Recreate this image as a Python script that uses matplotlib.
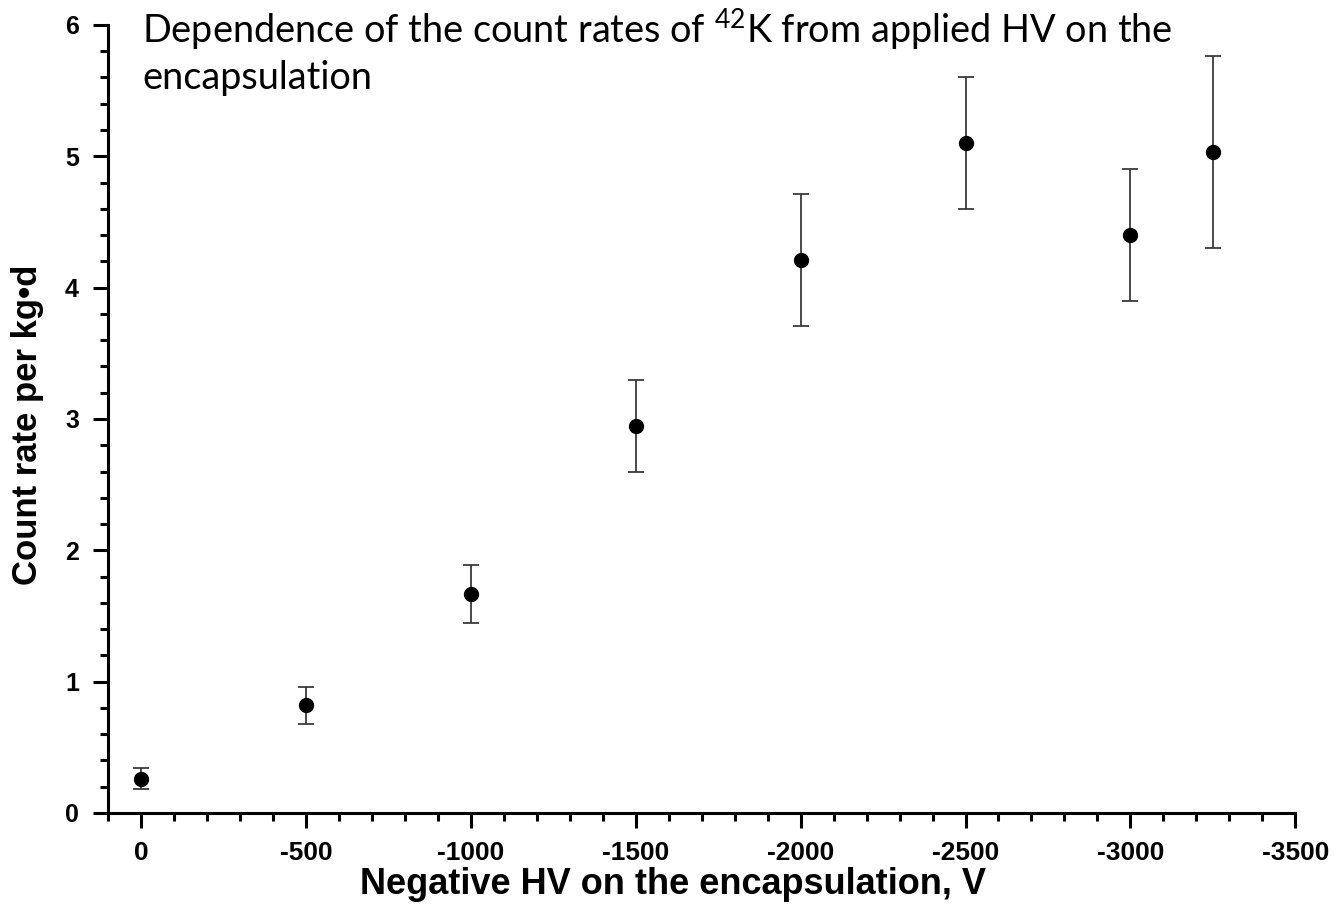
import matplotlib.pyplot as plt
from matplotlib.ticker import MultipleLocator

# HV on encapsulation (V) vs 42K count rate
hv = [0, -500, -1000, -1500, -2000, -2500, -3000, -3250]
rate = [0.26, 0.82, 1.67, 2.95, 4.21, 5.10, 4.40, 5.03]
rate_err = [0.08, 0.14, 0.22, 0.35, 0.50, 0.50, 0.50, 0.73]

plt.rcParams['mathtext.default'] = 'regular'
plt.rcParams['axes.unicode_minus'] = False

fig = plt.figure(figsize=(13.34, 9.11), dpi=100)
ax = fig.add_axes([0.081, 0.1076, 0.890, 0.865])

ax.errorbar(hv, rate, yerr=rate_err, fmt='o', color='black', ms=10,
            ecolor='#3a3a3a', elinewidth=1.3, capsize=5.5, capthick=1.3)

ax.set_xlim(100, -3500)
ax.set_ylim(0, 6)
ax.xaxis.set_major_locator(MultipleLocator(500))
ax.xaxis.set_minor_locator(MultipleLocator(100))
ax.yaxis.set_major_locator(MultipleLocator(1))
ax.yaxis.set_minor_locator(MultipleLocator(0.2))

for s in ['top', 'right']:
    ax.spines[s].set_visible(False)
for s in ['left', 'bottom']:
    ax.spines[s].set_linewidth(2.2)

ax.tick_params(which='major', length=11, width=2.2)
ax.tick_params(which='minor', length=6, width=2.2)
ax.tick_params(axis='x', which='major', labelsize=19, pad=9)
ax.tick_params(axis='y', which='major', labelsize=18, pad=10)
for lab in ax.get_xticklabels() + ax.get_yticklabels():
    lab.set_fontweight('bold')
    lab.set_fontfamily('Liberation Sans')

ax.set_xlabel('Negative HV on the encapsulation, V', fontsize=26,
              fontweight='bold', family='Liberation Sans')
ax.set_ylabel('Count rate per kg\u2022d', fontsize=25,
              fontweight='bold', family='Liberation Sans')
ax.xaxis.set_label_coords(0.476, -0.091)
ax.yaxis.set_label_coords(-0.068, 0.492)
ax.xaxis.label.set_va('center')
ax.yaxis.label.set_va('center')

ax.text(0.029, 1.023, 'Dependence of the count rates of $^{42}$K from applied HV on the\nencapsulation',
        transform=ax.transAxes, ha='left', va='top', fontsize=27.3,
        family='Lato', linespacing=1.26)

fig.savefig('out.png', dpi=100)
